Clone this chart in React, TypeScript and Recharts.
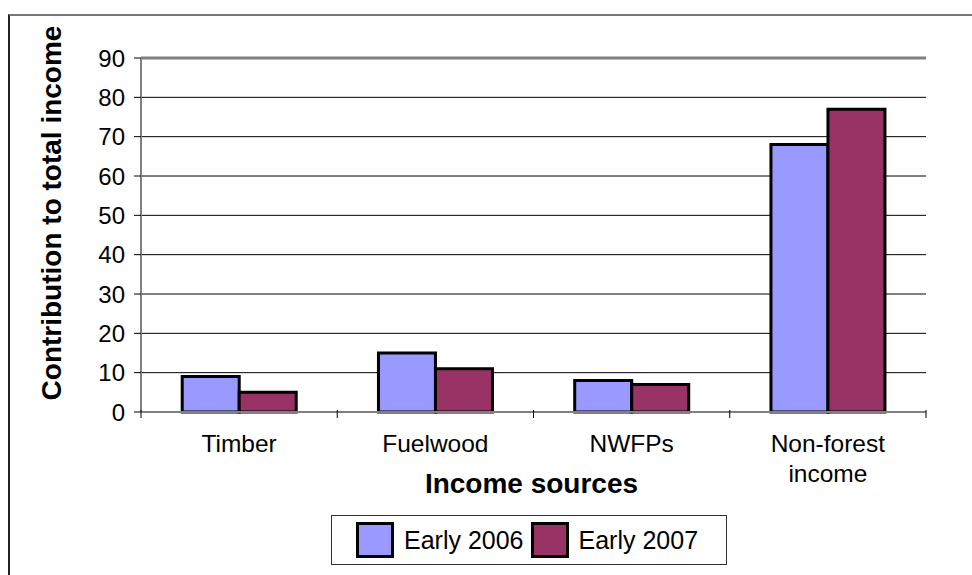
import React from "react";
import { BarChart, Bar, XAxis, YAxis, CartesianGrid, ReferenceLine } from "recharts";

const categories = ["Timber", "Fuelwood", "NWFPs", "Non-forest income"];
const early2006 = [9, 15, 8, 68];
const early2007 = [5, 11, 7, 77];
const yTicks = [0, 10, 20, 30, 40, 50, 60, 70, 80, 90];

const seriesNames = ["Early 2006", "Early 2007"];
const seriesColors = ["#9999FF", "#993366"];

const data = categories.map((name, i) => ({
  name,
  s2006: early2006[i],
  s2007: early2007[i],
}));

const FONT = "'Liberation Sans', Arial, sans-serif";

// category label plus boundary tick marks at band edges
const XTick = (props: any) => {
  const { x, y, payload, index } = props;
  const half = payload.offset || 0;
  const words: string[] =
    payload.value.length > 10 ? payload.value.split(" ") : [payload.value];
  const axisY = y - 10;
  return (
    <g>
      <line x1={x - half} x2={x - half} y1={axisY} y2={axisY + 8} stroke="#000" />
      {index === categories.length - 1 && (
        <line x1={x + half} x2={x + half} y1={axisY} y2={axisY + 8} stroke="#000" />
      )}
      <text x={x} y={y} textAnchor="middle" fontSize={24.5} fontFamily={FONT} fill="#000">
        {words.map((w, i) => (
          <tspan key={i} x={x} dy={i === 0 ? 32 : 30}>
            {w}
          </tspan>
        ))}
      </text>
    </g>
  );
};

export default function App() {
  return (
    <div
      style={{
        position: "absolute",
        left: 0,
        top: 0,
        width: 972,
        height: 575,
        background: "#fff",
        overflow: "hidden",
        fontFamily: FONT,
      }}
    >
      {/* outer frame */}
      <div
        style={{
          position: "absolute",
          left: 8,
          top: 14,
          width: 980,
          height: 600,
          borderLeft: "2px solid #222",
          borderTop: "2px solid #777",
        }}
      />
      <BarChart
        width={972}
        height={575}
        data={data}
        margin={{ top: 58, right: 46, left: 0, bottom: 63 }}
        barCategoryGap="21%"
        barGap={0}
      >
        <CartesianGrid vertical={false} stroke="#000" strokeWidth={1} />
        <XAxis
          dataKey="name"
          height={100}
          tickLine={false}
          axisLine={{ stroke: "#808080", strokeWidth: 2 }}
          tick={<XTick />}
          interval={0}
          label={{
            content: (p: any) => {
              const vb = p.viewBox;
              return (
                <text
                  x={vb.x + vb.width / 2 - 2}
                  y={vb.y + 81}
                  textAnchor="middle"
                  fontSize={28}
                  fontWeight="bold"
                  fontFamily={FONT}
                  fill="#000"
                >
                  Income sources
                </text>
              );
            },
          }}
        />
        <YAxis
          width={141}
          domain={[0, 90]}
          ticks={yTicks}
          interval={0}
          tickSize={7}
          tickMargin={9}
          tickLine={{ stroke: "#000" }}
          axisLine={{ stroke: "#808080", strokeWidth: 2 }}
          tick={{ fontSize: 24, fill: "#000", fontFamily: FONT }}
          label={{
            content: (p: any) => {
              const vb = p.viewBox;
              const cx = 51;
              const cy = vb.y + vb.height / 2 - 22;
              return (
                <text
                  x={cx}
                  y={cy}
                  transform={`rotate(-90 ${cx} ${cy})`}
                  textAnchor="middle"
                  dominantBaseline="central"
                  fontSize={28}
                  fontWeight="bold"
                  fontFamily={FONT}
                  fill="#000"
                >
                  Contribution to total income
                </text>
              );
            },
          }}
        />
        <YAxis
          yAxisId="right"
          orientation="right"
          width={0}
          domain={[0, 90]}
          tick={false}
          tickLine={false}
          axisLine={{ stroke: "#808080", strokeWidth: 3 }}
        />
        <ReferenceLine y={90} stroke="#808080" strokeWidth={3} />
        <Bar
          dataKey="s2006"
          name={seriesNames[0]}
          fill={seriesColors[0]}
          stroke="#000"
          strokeWidth={3}
          isAnimationActive={false}
        />
        <Bar
          dataKey="s2007"
          name={seriesNames[1]}
          fill={seriesColors[1]}
          stroke="#000"
          strokeWidth={3}
          isAnimationActive={false}
        />
      </BarChart>
      {/* legend */}
      <div
        style={{
          position: "absolute",
          left: 331,
          top: 515,
          width: 396,
          height: 50,
          border: "1px solid #333",
          display: "flex",
          alignItems: "center",
          paddingLeft: 24,
          boxSizing: "border-box",
        }}
      >
        {seriesNames.map((n, i) => (
          <div key={n} style={{ display: "flex", alignItems: "center", marginRight: 7 }}>
            <div
              style={{
                width: 32,
                height: 30,
                background: seriesColors[i],
                border: "3px solid #000",
                marginRight: 10,
              }}
            />
            <span style={{ fontSize: 25, color: "#000" }}>{n}</span>
          </div>
        ))}
      </div>
    </div>
  );
}
